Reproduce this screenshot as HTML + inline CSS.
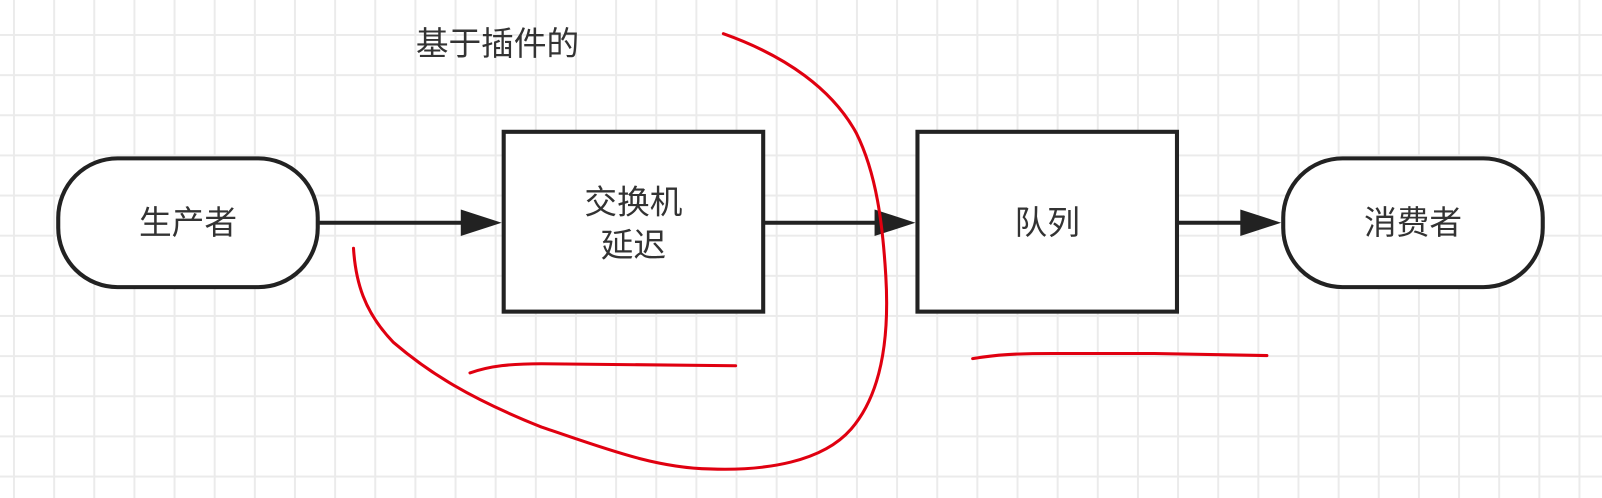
<!DOCTYPE html>
<html><head><meta charset="utf-8"><style>
html,body{margin:0;padding:0;}
body{width:1602px;height:498px;overflow:hidden;background-color:#fff;
background-image:linear-gradient(to right,#ebebeb 2px,transparent 2px),linear-gradient(to bottom,#ebebeb 2px,transparent 2px);
background-size:40.15px 40.15px;background-position:13px 34px;}
svg{position:absolute;left:0;top:0;}
text{font-family:"Liberation Sans","Noto Sans CJK SC",sans-serif;fill:#333;font-size:32px;}
</style></head><body>
<svg width="1602" height="498" viewBox="0 0 1568 487.4">
<g stroke="#222" stroke-width="4" fill="#fff">
<rect x="57" y="155" width="254" height="126" rx="58" ry="58"/>
<rect x="493" y="129" width="254" height="176"/>
<rect x="898" y="129" width="254" height="176"/>
<rect x="1256" y="155" width="254" height="126" rx="58" ry="58"/>
</g>
<g stroke="#222" stroke-width="4" fill="#222">
<line x1="311" y1="218" x2="455" y2="218"/><path d="M451,205 L491,218 L451,231z" stroke="none"/>
<line x1="747" y1="218" x2="860" y2="218"/><path d="M856,205 L896,218 L856,231z" stroke="none"/>
<line x1="1152" y1="218" x2="1218" y2="218"/><path d="M1214,205 L1254,218 L1214,231z" stroke="none"/>
</g>
<text x="184" y="229" text-anchor="middle">生产者</text>
<text x="620" y="209" text-anchor="middle">交换机</text>
<text x="620" y="251" text-anchor="middle">延迟</text>
<text x="1025" y="229" text-anchor="middle">队列</text>
<text x="1383" y="229" text-anchor="middle">消费者</text>
<text x="407" y="54">基于插件的</text>
<g stroke="#e00010" stroke-width="3" fill="none" stroke-linecap="round">
<path d="M346,243 C348,275 356,305 385,335 C420,365 460,390 530,418 C590,438 640,458 695,459 C750,461 805,452 833,420 C866,382 870,320 867,270 C864,220 858,170 838,130 C815,88 770,55 708,33"/>
<path d="M460,365 C480,358 500,356 530,356 L720,358"/>
<path d="M952,351 C975,347 995,346 1030,346 L1130,346 L1240,348"/>
</g>
</svg>
</body></html>
